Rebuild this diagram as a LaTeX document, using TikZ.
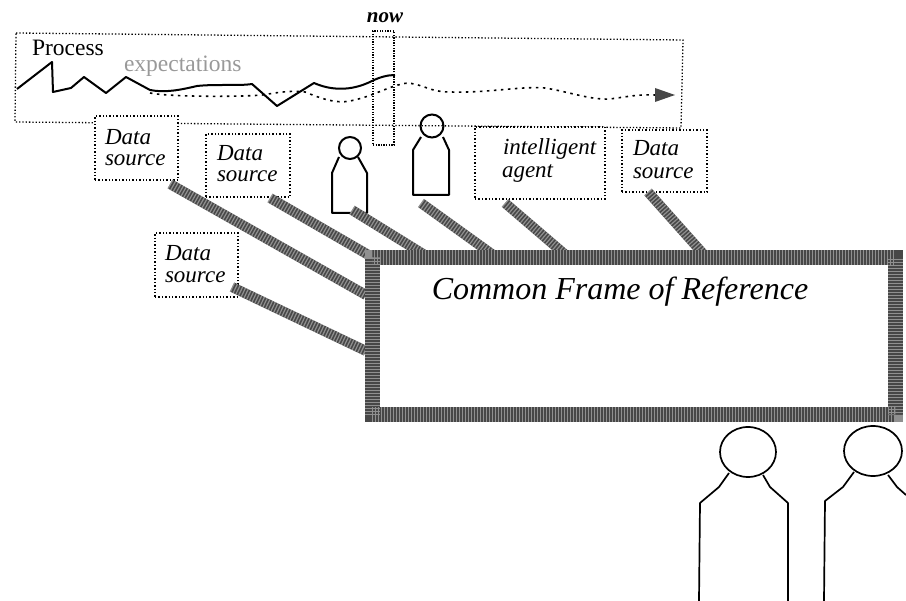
\documentclass[tikz,border=0pt]{standalone}
\usepackage{fontspec}
\setmainfont{Liberation Serif}
\usetikzlibrary{arrows.meta,shapes.geometric}
\tikzset{
  every node/.style={outer sep=0pt},
  dotbox/.style={draw=black,fill=white,line width=1.4pt,dash pattern=on 1.4pt off 2pt,inner sep=0pt,anchor=north west},
  dotline/.style={draw=black,line width=1.3pt,dash pattern=on 1.3pt off 2pt},
  halftone/.style={draw=black!72,line width=#1,postaction={draw=white,line width=#1,dash pattern=on 1.2pt off 1.8pt,opacity=.4}},
  figure/.style={draw=black,line width=2pt,line join=round},
  bigfigure/.style={draw=black,line width=1.7pt,line join=round},
  label/.style={font=\itshape\fontsize{23}{25}\selectfont,anchor=west,inner sep=0pt},
}
\begin{document}
\begin{tikzpicture}[x=1pt,y=-1pt]
\useasboundingbox (0,0) rectangle (906,601);
% process box
\draw[dotline] (16,33) -- (683,40) -- (681,128) -- (15,122) -- cycle;
\node[font=\fontsize{23.5}{25}\selectfont,anchor=west,inner sep=0pt] (process) at (32,48) {Process};
\node[font=\fontsize{23.5}{25}\selectfont,anchor=west,inner sep=0pt,text=black!40] (expect) at (124,66) {expectations};
% traces
\draw[black,line width=2pt,line join=round] (17,89) -- (52,62) -- (53,92) -- (71,88) -- (84,77) -- (106,93) -- (126,77) -- (150,90) .. controls (165,93) and (180,90) .. (197,86) .. controls (215,84) and (240,86) .. (252,84) -- (277,106) -- (314,83) .. controls (330,90) and (350,92) .. (372,81) .. controls (380,77) and (388,75) .. (395,75);
\draw[black,line width=1.6pt,dash pattern=on 2.5pt off 4.5pt] (150,93) .. controls (170,97) and (240,97) .. (262,95) .. controls (275,93) and (290,90) .. (305,92) .. controls (320,98) and (335,104) .. (350,101) .. controls (375,96) and (390,85) .. (408,83) .. controls (425,85) and (430,92) .. (450,92) .. controls (490,93) and (520,86) .. (545,88) .. controls (570,92) and (590,100) .. (610,99) .. controls (625,97) and (640,94) .. (655,95);
\path[fill=black!72] (655,88) -- (675,95) -- (655,102) -- cycle;
% now box
\node[font=\itshape\bfseries\fontsize{21}{23}\selectfont,inner sep=0pt] (nowlabel) at (385,18) {now};
\node[draw=black,line width=1.2pt,dash pattern=on 1.3pt off 1.3pt,minimum width=21pt,minimum height=114pt,inner sep=0pt,anchor=north west] (nowbox) at (373,31) {};
% data boxes
\node[dotbox,minimum width=83pt,minimum height=64pt] (ds1) at (95,116) {};
\node[label] at (105,137) {Data};
\node[label] at (105,160) {source};
\node[dotbox,minimum width=84pt,minimum height=63pt] (ds2) at (206,134) {};
\node[label] at (217,153) {Data};
\node[label] at (217,176) {source};
\node[dotbox,minimum width=83pt,minimum height=64pt] (ds3) at (155,233) {};
\node[label] at (165,253) {Data};
\node[label] at (165,277) {source};
\node[dotbox,minimum width=130pt,minimum height=72pt] (agent) at (475,127) {};
\node[label] at (503,149) {intelligent};
\node[label] at (502,173) {agent};
\node[dotbox,minimum width=85pt,minimum height=62pt] (ds4) at (622,130) {};
\node[label] at (633,148) {Data};
\node[label] at (633,173) {source};
% small people
\node[draw=black,line width=2pt,circle,minimum size=22pt,inner sep=0pt] (headA) at (350,148) {};
\draw[figure] (339,157) -- (332,173) -- (332,213) -- (367,213) -- (367,173) -- (358,157);
\node[draw=black,line width=2pt,circle,minimum size=23pt,inner sep=0pt] (headB) at (432,126) {};
\draw[figure] (421,137) -- (413,150) -- (413,195) -- (449,195) -- (449,150) -- (443,137);
% big people
\node[draw=black,line width=1.7pt,ellipse,minimum width=56pt,minimum height=50pt,inner sep=0pt] (headC) at (748,452) {};
\draw[bigfigure] (729,473) -- (719,487) -- (700,503) -- (699,601);
\draw[bigfigure] (763,475) -- (770,487) -- (788,503) -- (788,601);
\node[draw=black,line width=1.7pt,ellipse,minimum width=58pt,minimum height=50pt,inner sep=0pt] (headD) at (873,451) {};
\draw[bigfigure] (854,472) -- (843,487) -- (825,501) -- (824,601);
\draw[bigfigure] (888,475) -- (897,487) -- (906,495);
% connector ends
\coordinate (c1a) at (170,184); \coordinate (c1b) at (366,295);
\coordinate (c2a) at (232,287); \coordinate (c2b) at (366,351);
\coordinate (c3a) at (270,198); \coordinate (c3b) at (372,257);
\coordinate (c4a) at (352,210); \coordinate (c4b) at (428,257);
\coordinate (c5a) at (421,203); \coordinate (c5b) at (496,257);
\coordinate (c6a) at (505,203); \coordinate (c6b) at (568,257);
\coordinate (c7a) at (648,192); \coordinate (c7b) at (706,257);
\foreach \a/\b in {c1a/c1b,c2a/c2b,c3a/c3b,c4a/c4b,c5a/c5b,c6a/c6b,c7a/c7b}
  \draw[halftone=10pt] (\a) -- (\b);
% frame
\node[halftone=15pt,minimum width=523pt,minimum height=157pt,inner sep=0pt,anchor=north west] (frame) at (372,258) {};
\node[font=\itshape\fontsize{32}{35}\selectfont,inner sep=0pt] (frametext) at (620,292) {Common Frame of Reference};
\end{tikzpicture}
\end{document}
